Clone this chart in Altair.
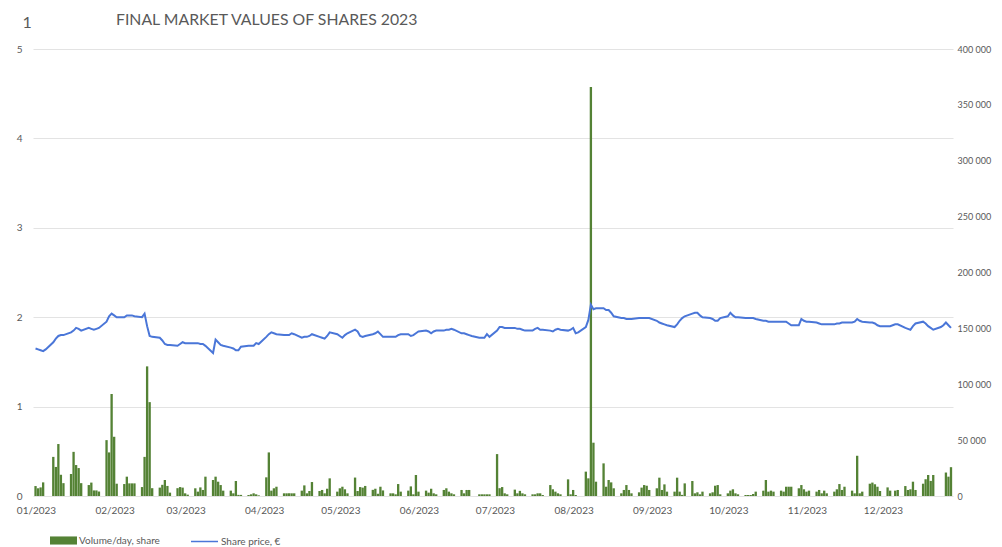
import altair as alt
import pandas as pd

TITLE = "FINAL MARKET VALUES OF SHARES 2023"
CHART_NO = "1"
VOL_LABEL = "Volume/day, share"
PRICE_LABEL = "Share price, €"

# trading weeks Mon..Fri, 2 Jan 2023 - 29 Dec 2023
volume = [
    8900, 6900, 7700, 12200, 0,
    35000, 26000, 46500, 19000, 11500,
    19700, 39500, 27700, 25000, 11500,
    9800, 12000, 5000, 5000, 4000,
    50000, 39000, 91300, 53000, 11000,
    10700, 17300, 11300, 11300, 11300,
    8000, 35000, 116000, 84000, 7000,
    7500, 10000, 14300, 9000, 3000,
    7000, 8000, 7500, 2400, 1200,
    6900, 3900, 7700, 5400, 17300,
    14300, 17300, 12800, 9800, 4800,
    4800, 2400, 13400, 1000, 1000,
    900, 1500, 2400, 1500, 600,
    16700, 39000, 4800, 6900, 8300,
    2400, 2400, 2400, 2400, 2400,
    4800, 9500, 2400, 4500, 12500,
    4500, 5400, 2400, 6500, 15800,
    3900, 6900, 8300, 6000, 2400,
    16500, 4500, 8000, 7500, 9000,
    5500, 6500, 2000, 8300, 5000,
    2400, 2400, 1500, 10700, 3900,
    4800, 8600, 1500, 18800, 3900,
    4800, 3000, 6500, 2400, 1500,
    5400, 6900, 3900, 2400, 1500,
    5400, 2400, 5400, 5400, 0,
    1500, 1500, 1500, 1500, 1500,
    37500, 7000, 8000, 2400, 1500,
    5700, 2400, 4600, 2400, 1500,
    1500, 1500, 2400, 2400, 900,
    9800, 6000, 3900, 2400, 1500,
    14900, 1500, 5400, 900, 0,
    21800, 15800, 366000, 47700, 12800,
    29200, 8300, 14300, 12200, 6900,
    2400, 5400, 9800, 5400, 2400,
    3300, 7500, 9800, 9200, 5400,
    6900, 16400, 5400, 10400, 3900,
    3900, 16400, 3900, 1000, 11300,
    13400, 2400, 3300, 1500, 3900,
    2400, 3300, 9200, 9800, 1500,
    2400, 4800, 6000, 2400, 1500,
    900, 900, 900, 1800, 3900,
    4800, 14300, 3900, 4800, 3900,
    4800, 3900, 8300, 8300, 8300,
    6900, 9800, 6000, 3900, 4800,
    3900, 5400, 2400, 4800, 2400,
    3900, 6000, 10700, 5400, 8300,
    4800, 2400, 36000, 2400, 3900,
    11000, 12000, 10500, 8300, 4500,
    7700, 4800, 0, 4800, 5400,
    8900, 5400, 6000, 12800, 5400,
    11000, 15000, 18800, 13500, 18800,
    0, 0, 21000, 17300, 25800,
]

price = [
    1.65, 1.64, 1.63, 1.62, 1.64,
    1.72, 1.76, 1.79, 1.80, 1.80,
    1.83, 1.85, 1.88, 1.87, 1.85,
    1.88, 1.87, 1.86, 1.87, 1.88,
    1.95, 2.01, 2.04, 2.02, 2.00,
    2.00, 2.02, 2.02, 2.02, 2.01,
    2.00, 2.04, 1.90, 1.79, 1.78,
    1.77, 1.74, 1.70, 1.69, 1.69,
    1.68, 1.70, 1.72, 1.71, 1.71,
    1.71, 1.71, 1.70, 1.70, 1.68,
    1.60, 1.75, 1.72, 1.69, 1.68,
    1.66, 1.65, 1.63, 1.63, 1.67,
    1.68, 1.68, 1.68, 1.71, 1.70,
    1.78, 1.81, 1.83, 1.82, 1.81,
    1.80, 1.80, 1.80, 1.82, 1.81,
    1.77, 1.78, 1.78, 1.79, 1.81,
    1.78, 1.77, 1.76, 1.79, 1.83,
    1.81, 1.79, 1.77, 1.80, 1.82,
    1.86, 1.84, 1.79, 1.78, 1.79,
    1.81, 1.82, 1.84, 1.81, 1.78,
    1.78, 1.78, 1.78, 1.80, 1.81,
    1.81, 1.79, 1.80, 1.82, 1.84,
    1.85, 1.84, 1.82, 1.84, 1.85,
    1.85, 1.86, 1.86, 1.87, 1.86,
    1.82, 1.82, 1.81, 1.80, 1.79,
    1.77, 1.77, 1.77, 1.81, 1.78,
    1.85, 1.89, 1.89, 1.88, 1.88,
    1.88, 1.87, 1.87, 1.86, 1.85,
    1.85, 1.87, 1.88, 1.86, 1.86,
    1.85, 1.84, 1.86, 1.87, 1.86,
    1.85, 1.86, 1.88, 1.82, 1.83,
    1.89, 1.97, 2.14, 2.09, 2.10,
    2.10, 2.08, 2.08, 2.05, 2.01,
    1.99, 1.99, 1.98, 1.98, 1.98,
    1.99, 1.99, 1.99, 1.99, 1.99,
    1.96, 1.94, 1.93, 1.92, 1.91,
    1.89, 1.92, 1.96, 1.99, 2.01,
    2.04, 2.05, 2.05, 2.02, 2.00,
    1.99, 1.98, 1.96, 1.96, 1.99,
    2.01, 2.05, 2.02, 2.00, 2.00,
    1.99, 1.99, 1.99, 1.99, 1.98,
    1.96, 1.96, 1.95, 1.95, 1.95,
    1.95, 1.95, 1.95, 1.93, 1.91,
    1.91, 1.98, 1.96, 1.95, 1.95,
    1.94, 1.93, 1.92, 1.92, 1.92,
    1.92, 1.93, 1.93, 1.94, 1.94,
    1.94, 1.95, 1.98, 1.96, 1.95,
    1.94, 1.94, 1.93, 1.91, 1.90,
    1.90, 1.90, 1.91, 1.92, 1.92,
    1.88, 1.87, 1.86, 1.90, 1.93,
    1.95, 1.93, 1.90, 1.88, 1.86,
    1.89, 1.91, 1.94, 1.91, 1.88,
]

price_ticks = [0, 1, 2, 3, 4, 5]
volume_ticks = [0, 50000, 100000, 150000, 200000, 250000, 300000, 350000, 400000]

dates = pd.bdate_range("2023-01-02", "2023-12-29")
fmt = "%Y-%m-%dT%H:%M:%S"
df = pd.DataFrame({
    "day": dates.strftime(fmt),
    "start": (dates - pd.Timedelta(hours=11)).strftime(fmt),
    "end": (dates + pd.Timedelta(hours=11)).strftime(fmt),
    "volume": volume,
    "price": price,
    "vseries": VOL_LABEL,
    "pseries": PRICE_LABEL,
})

TXT = "#595959"
FONT = "Lato"

xscale = alt.Scale(domain=[alt.DateTime(year=2023, month=1, date=1),
                           alt.DateTime(year=2023, month=12, date=29, hours=19)])
month_ticks = [alt.DateTime(year=2023, month=m, date=1) for m in range(1, 13)]
xaxis = alt.Axis(format="%m/%Y", values=month_ticks, grid=False, ticks=False,
                 domain=False, labelPadding=9, labelFlush=False, labelOffset=3,
                 labelFontSize=10, labelColor=TXT, labelFont=FONT)

bars = alt.Chart(df).mark_bar().encode(
    x=alt.X("start:T", scale=xscale, axis=xaxis, title=None),
    x2="end:T",
    y=alt.Y("volume:Q", scale=alt.Scale(domain=[0, 400000], nice=False),
            axis=alt.Axis(orient="right", values=volume_ticks, grid=False,
                          ticks=False, domain=False, labelPadding=4,
                          labelExpr="datum.value == 0 ? '0' : format(datum.value / 1000, 'd') + ' 000'",
                          labelFontSize=9, labelColor=TXT, labelFont=FONT),
            title=None),
    y2=alt.datum(0),
    fill=alt.Fill("vseries:N", scale=alt.Scale(domain=[VOL_LABEL], range=["#548235"]),
                  legend=alt.Legend(orient="none", legendX=17, legendY=478, title=None,
                                    symbolType="M-1,-0.3H1V0.3H-1Z", symbolSize=729,
                                    symbolStrokeWidth=0, padding=0, labelOffset=2,
                                    labelFontSize=10, labelColor=TXT, labelFont=FONT)),
)

line = alt.Chart(df).mark_line(strokeWidth=2).encode(
    x=alt.X("day:T", scale=xscale, axis=xaxis, title=None),
    y=alt.Y("price:Q", scale=alt.Scale(domain=[0, 5], nice=False),
            axis=alt.Axis(orient="left", values=price_ticks, grid=True,
                          gridColor="#e3e3e3", gridWidth=1, ticks=False, domain=False,
                          labelPadding=11, labelFontSize=10, labelColor=TXT, labelFont=FONT,
                          title=CHART_NO, titleAngle=0, titleX=-11, titleY=-22,
                          titleAlign="left", titleBaseline="alphabetic", titleFontSize=16,
                          titleFontWeight="normal", titleColor=TXT, titleFont=FONT)),
    stroke=alt.Stroke("pseries:N", scale=alt.Scale(domain=[PRICE_LABEL], range=["#4a76d8"]),
                      legend=alt.Legend(orient="none", legendX=157, legendY=478, title=None,
                                        symbolType="stroke", symbolSize=729,
                                        symbolStrokeWidth=1.5, padding=0, labelOffset=2,
                                        labelFontSize=10, labelColor=TXT, labelFont=FONT)),
)

chart = alt.layer(bars, line).resolve_scale(y="independent").properties(
    width=920,
    height=447,
    autosize=alt.AutoSizeParams(type="none"),
    padding={"left": 25, "top": 41, "right": 41, "bottom": 52},
    title=alt.TitleParams(TITLE, anchor="start", frame="group", dx=83, dy=27, offset=0,
                          baseline="alphabetic", fontSize=15.8, font=FONT,
                          fontWeight="normal", color=TXT),
).configure_view(stroke=None)

chart.save("out.html", embed_options={"renderer": "svg", "actions": False})
